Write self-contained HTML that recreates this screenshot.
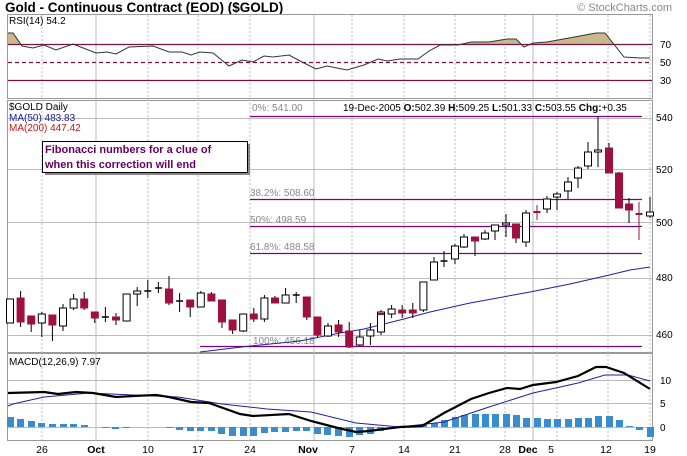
<!DOCTYPE html>
<html><head><meta charset="utf-8"><style>
body{margin:0;background:#fff;}
svg{display:block;font-family:"Liberation Sans",sans-serif;}
</style></head><body>
<svg width="687" height="456" viewBox="0 0 687 456" xmlns="http://www.w3.org/2000/svg">
<rect width="687" height="456" fill="#fff"/>
<text x="5" y="12" font-size="13.5" font-weight="bold" fill="#000">Gold - Continuous Contract (EOD) ($GOLD)</text>
<text x="672" y="11" font-size="11" fill="#888" text-anchor="end">© StockCharts.com</text>

<!-- Panels -->
<g fill="none" stroke="#999" stroke-width="1">
<rect x="7.5" y="14.5" width="645" height="84"/>
<rect x="7.5" y="100.5" width="645" height="252"/>
<rect x="7.5" y="353.5" width="645" height="87"/>
</g>

<!-- vertical grid -->
<g stroke="#bbb" stroke-width="1" stroke-dasharray="2,2">
<line x1="42" y1="15" x2="42" y2="440"/><line x1="148" y1="15" x2="148" y2="440"/>
<line x1="198" y1="15" x2="198" y2="440"/><line x1="250" y1="15" x2="250" y2="440"/>
<line x1="352" y1="15" x2="352" y2="440"/><line x1="404" y1="15" x2="404" y2="440"/>
<line x1="455" y1="15" x2="455" y2="440"/><line x1="505" y1="15" x2="505" y2="440"/>
<line x1="557" y1="15" x2="557" y2="440"/><line x1="608" y1="15" x2="608" y2="440"/>
<line x1="650" y1="15" x2="650" y2="440"/>
</g>
<g stroke="#bbb" stroke-width="1">
<line x1="96" y1="15" x2="96" y2="440"/><line x1="314" y1="15" x2="314" y2="440"/>
<line x1="533" y1="15" x2="533" y2="440"/>
<line x1="8" y1="118.5" x2="652" y2="118.5"/><line x1="8" y1="169.5" x2="652" y2="169.5"/>
<line x1="8" y1="222.5" x2="652" y2="222.5"/><line x1="8" y1="278.5" x2="652" y2="278.5"/>
<line x1="8" y1="335.5" x2="652" y2="335.5"/>
<line x1="8" y1="380.5" x2="652" y2="380.5"/><line x1="8" y1="403.5" x2="652" y2="403.5"/>
</g>

<!-- RSI -->
<defs><clipPath id="ab"><rect x="0" y="0" width="687" height="44.5"/></clipPath></defs>
<polygon clip-path="url(#ab)" fill="#c9b98a" points="8,33 13,33 22,46 33,48 44,45 56,50 73,44 96,53 107,52 116,54 129,47 153,46 169,52 182,52 191,55 200,52 213,53 229,66 242,60 253,62 264,56 273,57 289,55 302,62 316,69 327,66 347,70 364,65 378,59 387,61 400,59 418,59 429,51 440,45 458,45 471,42 489,42 507,39 516,39 524,47 533,43 547,42 569,38 596,33 605,33 624,57 640,58 650,58 650,44.5 8,44.5"/>
<line x1="8" y1="44.5" x2="652" y2="44.5" stroke="#7a1040" stroke-width="1.2"/>
<line x1="8" y1="62.5" x2="652" y2="62.5" stroke="#7a1040" stroke-width="1.2" stroke-dasharray="4,3"/>
<line x1="8" y1="80.5" x2="652" y2="80.5" stroke="#7a1040" stroke-width="1.2"/>
<polyline fill="none" stroke="#333" stroke-width="1" points="8,33 13,33 22,46 33,48 44,45 56,50 73,44 96,53 107,52 116,54 129,47 153,46 169,52 182,52 191,55 200,52 213,53 229,66 242,60 253,62 264,56 273,57 289,55 302,62 316,69 327,66 347,70 364,65 378,59 387,61 400,59 418,59 429,51 440,45 458,45 471,42 489,42 507,39 516,39 524,47 533,43 547,42 569,38 596,33 605,33 624,57 640,58 650,58"/>
<text x="9" y="24" font-size="10" fill="#000">RSI(14) 54.2</text>
<g font-size="10" fill="#000"><text x="660" y="48">70</text><text x="660" y="66">50</text><text x="660" y="84">30</text></g>

<!-- Fib lines -->
<g stroke="#800080" stroke-width="1.3">
<line x1="250" y1="116.5" x2="642" y2="116.5"/><line x1="250" y1="199.5" x2="642" y2="199.5"/>
<line x1="250" y1="226.5" x2="642" y2="226.5"/><line x1="250" y1="253.5" x2="642" y2="253.5"/>
<line x1="200" y1="346.5" x2="642" y2="346.5"/>
</g>
<g font-size="10" fill="#888">
<text x="252" y="111">0%: 541.00</text><text x="250" y="196">38.2%: 508.60</text>
<text x="250" y="223">50%: 498.59</text><text x="250" y="250">61.8%: 488.58</text>
<text x="253" y="344">100%: 456.18</text>
</g>

<!-- MA50 -->
<polyline fill="none" stroke="#2020a0" stroke-width="1" points="200,352 250,346 300,341 340,333 364,329 400,320 430,312 470,303 530,292 570,284 605,276 630,270 650,267"/>

<!-- Candles -->
<g stroke="#000" stroke-width="1">
<!-- wicks -->
<path d="M10,299V323M20.6,291V327M31.2,316V332M41.8,312V337M52.4,315V341M63,304V331M73.6,294V310M84.2,292V310M94.8,312V323M105.4,307V322M116,313V325M126.6,294V321M137.2,287V306M147.8,280V298M158.4,282V293M169,276V305M179.6,293V312M190.2,300V317M200.8,291V307M211.4,292V301M222,300V328M232.6,320V334M243.2,314V332M253.8,308V322M264.4,295V322M275,296V303M285.6,288V303M296.2,292V303M306.8,297V320M317.4,317V337M328,323V337M338.6,320V337M349.2,322V348M359.8,330V346M370.4,323V345M381,310V335M391.6,305V318M402.2,305V318M412.8,303V318M423.4,282V312M434,257V280M444,251V267M455,244V264M464,234V248M475,237V256M485,230V240M495,225V240M506,214V237M516,224V243M526,210V247M537,205V220M547,196V213M557,192V210M568,177V199M578,166V188M588,142V169M598,116V167M609,143V173M619,172V208M629,198V223M639,202V240M650,197V218" fill="none"/>
</g>
<g stroke="#000" stroke-width="1" fill="#fff">
<rect x="6.5" y="299" width="7" height="24"/><rect x="38.3" y="314" width="7" height="9"/>
<rect x="59.5" y="308" width="7" height="18"/><rect x="70.1" y="299" width="7" height="9"/>
<rect x="123.1" y="294" width="7" height="27"/><rect x="133.7" y="291" width="7" height="3"/>
<rect x="197.3" y="293" width="7" height="14"/><rect x="239.7" y="314" width="7" height="17"/>
<rect x="260.9" y="298" width="7" height="21"/><rect x="282.1" y="295" width="7" height="8"/>
<rect x="324.5" y="326" width="7" height="10"/><rect x="356.3" y="337" width="7" height="8"/>
<rect x="366.9" y="330" width="7" height="6"/><rect x="377.5" y="312" width="7" height="20"/>
<rect x="388.1" y="309" width="7" height="5"/><rect x="419.9" y="282" width="7" height="28"/>
<rect x="430.5" y="262" width="7" height="18"/><rect x="451.5" y="246" width="7" height="13"/>
<rect x="460.5" y="237" width="7" height="10"/><rect x="481.5" y="233" width="7" height="6"/>
<rect x="491.5" y="225" width="7" height="6"/><rect x="502.5" y="223" width="7" height="2"/>
<rect x="522.5" y="213" width="7" height="29"/><rect x="543.5" y="199" width="7" height="10"/>
<rect x="553.5" y="194" width="7" height="3"/><rect x="564.5" y="182" width="7" height="9"/>
<rect x="574.5" y="168" width="7" height="10"/><rect x="584.5" y="152" width="7" height="14"/>
<rect x="594.5" y="150" width="7" height="2"/><rect x="646.5" y="212" width="7" height="4"/>
</g>
<g fill="#a0103f" stroke="#a0103f" stroke-width="1">
<rect x="17.1" y="298" width="7" height="24"/><rect x="27.7" y="316" width="7" height="8"/>
<rect x="48.9" y="315" width="7" height="10"/><rect x="80.7" y="299" width="7" height="9"/>
<rect x="91.3" y="312" width="7" height="6"/><rect x="112.5" y="317" width="7" height="3"/>
<rect x="165.5" y="289" width="7" height="14"/><rect x="186.7" y="300" width="7" height="7"/>
<rect x="207.9" y="294" width="7" height="7"/><rect x="218.5" y="300" width="7" height="22"/>
<rect x="229.1" y="320" width="7" height="10"/><rect x="250.3" y="314" width="7" height="5"/>
<rect x="271.5" y="298" width="7" height="5"/><rect x="303.3" y="297" width="7" height="20"/>
<rect x="313.9" y="317" width="7" height="18"/><rect x="335.1" y="325" width="7" height="7"/>
<rect x="345.7" y="331" width="7" height="16"/><rect x="398.7" y="310" width="7" height="3"/>
<rect x="409.3" y="310" width="7" height="3"/><rect x="471.5" y="237" width="7" height="4"/>
<rect x="512.5" y="224" width="7" height="14"/><rect x="605.5" y="148" width="7" height="25"/>
<rect x="615.5" y="173" width="7" height="35"/><rect x="625.5" y="204" width="7" height="6"/>
</g>
<g stroke="#000" stroke-width="1.5">
<path d="M101.9,317H108.9M144.3,291H151.3M154.9,288H161.9M176.1,301H183.1M292.7,295H299.7M440.5,261H447.5"/>
</g>
<g stroke="#a0103f" stroke-width="2">
<path d="M533.5,212H540.5M635.5,214H642.5M378,314H384"/>
</g>
<g stroke="#a0103f" stroke-width="1"><path d="M537,205V220M639,202V240"/></g>

<!-- Main panel texts -->
<text x="9" y="110" font-size="10" fill="#000">$GOLD Daily</text>
<text x="9" y="121" font-size="10" fill="#1a1aa0">MA(50) 483.83</text>
<text x="9" y="131" font-size="10" fill="#d01010">MA(200) 447.42</text>
<text x="343" y="111" font-size="10" fill="#000">19-Dec-2005 <tspan font-weight="bold">O:</tspan>502.39 <tspan font-weight="bold">H:</tspan>509.25 <tspan font-weight="bold">L:</tspan>501.33 <tspan font-weight="bold">C:</tspan>503.55 <tspan font-weight="bold">Chg:</tspan>+0.35</text>
<g font-size="10" fill="#000">
<text x="656" y="121">540</text><text x="656" y="173">520</text><text x="656" y="226">500</text>
<text x="656" y="281">480</text><text x="656" y="338">460</text>
</g>

<!-- annotation -->
<rect x="45" y="144" width="205" height="31" fill="#888"/>
<rect x="42.5" y="141.5" width="205" height="31" fill="#fff" stroke="#000"/>
<text x="45" y="153" font-size="11" font-weight="bold" fill="#660066">Fibonacci  numbers for a clue of</text>
<text x="45" y="168" font-size="11" font-weight="bold" fill="#660066">when this correction will end</text>

<!-- MACD -->
<line x1="8" y1="427.5" x2="652" y2="427.5" stroke="#bbb"/>
<g fill="#3a8ccc">
<rect x="7" y="417" width="7" height="10"/><rect x="17" y="419" width="7" height="8"/>
<rect x="28" y="421" width="7" height="6"/><rect x="38" y="423" width="7" height="4"/>
<rect x="49" y="424" width="7" height="3"/><rect x="60" y="424" width="7" height="3"/>
<rect x="70" y="424" width="7" height="3"/><rect x="81" y="425" width="7" height="2"/>
<rect x="102" y="427" width="7" height="1"/><rect x="112" y="427" width="7" height="2"/>
<rect x="123" y="427" width="7" height="1"/>
<rect x="166" y="427" width="7" height="1"/><rect x="176" y="427" width="7" height="3"/>
<rect x="187" y="427" width="7" height="4"/><rect x="197" y="427" width="7" height="4"/>
<rect x="208" y="427" width="7" height="4"/><rect x="218" y="427" width="7" height="7"/>
<rect x="229" y="427" width="7" height="9"/><rect x="240" y="427" width="7" height="9"/>
<rect x="250" y="427" width="7" height="9"/><rect x="261" y="427" width="7" height="6"/>
<rect x="271" y="427" width="7" height="5"/><rect x="282" y="427" width="7" height="5"/>
<rect x="293" y="427" width="7" height="4"/><rect x="303" y="427" width="7" height="4"/>
<rect x="314" y="427" width="7" height="7"/><rect x="324" y="427" width="7" height="8"/>
<rect x="335" y="427" width="7" height="9"/><rect x="346" y="427" width="7" height="10"/>
<rect x="356" y="427" width="7" height="8"/><rect x="367" y="427" width="7" height="7"/>
<rect x="377" y="427" width="7" height="4"/><rect x="388" y="427" width="7" height="2"/>
<rect x="409" y="426" width="7" height="1"/><rect x="420" y="425" width="7" height="2"/>
<rect x="431" y="423" width="7" height="4"/><rect x="441" y="420" width="7" height="7"/>
<rect x="452" y="417" width="7" height="10"/><rect x="461" y="415" width="7" height="12"/>
<rect x="472" y="414" width="7" height="13"/><rect x="482" y="414" width="7" height="13"/>
<rect x="492" y="414" width="7" height="13"/><rect x="503" y="414" width="7" height="13"/>
<rect x="513" y="415" width="7" height="12"/><rect x="523" y="418" width="7" height="9"/>
<rect x="534" y="418" width="7" height="9"/><rect x="544" y="419" width="7" height="8"/>
<rect x="554" y="419" width="7" height="8"/><rect x="565" y="419" width="7" height="8"/>
<rect x="575" y="418" width="7" height="9"/><rect x="585" y="418" width="7" height="9"/>
<rect x="595" y="416" width="7" height="11"/><rect x="606" y="416" width="7" height="11"/>
<rect x="616" y="420" width="7" height="7"/><rect x="626" y="426" width="7" height="1"/>
<rect x="636" y="427" width="7" height="3"/><rect x="647" y="427" width="7" height="10"/>
</g>
<polyline fill="none" stroke="#2020a0" stroke-width="1" points="8,406 13,404 44,397 89,393 133,395 178,397 222,404 267,409 311,412 356,423 400,427 444,422 489,407 533,393 578,383 605,375 628,375 650,381"/>
<polyline fill="none" stroke="#000" stroke-width="2.2" points="8,393 44,392 58,394 76,392 93,393 116,397 133,396 156,395 169,397 191,402 209,403 240,414 253,416 289,414 311,421 338,428 356,432 369,431 400,427 422,426 444,413 471,399 489,393 507,388 520,389 533,385 556,382 578,376 596,367 606,367 624,373 650,389"/>
<text x="9" y="365" font-size="10" fill="#000">MACD(12,26,9) 7.97</text>
<g font-size="10" fill="#000"><text x="660" y="384">10</text><text x="660" y="407">5</text><text x="660" y="431">0</text></g>

<!-- x axis -->
<g font-size="10.5" fill="#000" text-anchor="middle">
<text x="42" y="453">26</text><text x="96" y="453" font-weight="bold">Oct</text>
<text x="148" y="453">10</text><text x="198" y="453">17</text><text x="250" y="453">24</text>
<text x="308" y="453" font-weight="bold">Nov</text><text x="352" y="453">7</text>
<text x="404" y="453">14</text><text x="455" y="453">21</text><text x="505" y="453">28</text>
<text x="528" y="453" font-weight="bold">Dec</text><text x="551" y="453">5</text>
<text x="606" y="453">12</text><text x="650" y="453">19</text>
</g>
</svg>
</body></html>
